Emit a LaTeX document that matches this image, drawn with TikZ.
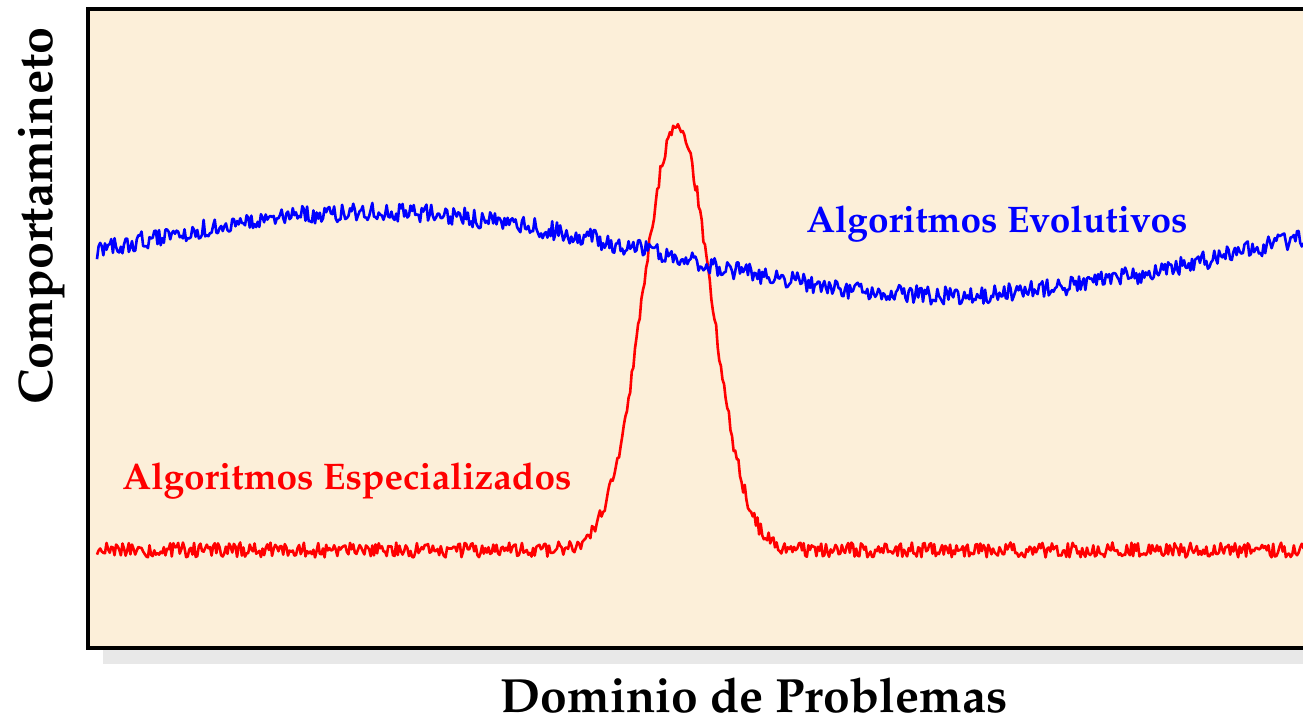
\documentclass[tikz,border=0pt]{standalone}
\usepackage[T1]{fontenc}
\renewcommand{\rmdefault}{ppl}
\definecolor{bgbeige}{RGB}{252,239,217}
\definecolor{shadowgray}{RGB}{232,232,232}
\begin{document}
\begin{tikzpicture}[x=1pt,y=-1pt,
  curve/.style={line width=2.6pt, line join=round},
  lbl/.style={font=\fontfamily{ppl}\bfseries\selectfont, anchor=base, inner sep=0pt}]
\useasboundingbox (0,0) rectangle (1303,719);
\begin{scope}
\clip (0,0) rectangle (1303,719);
\fill[shadowgray] (103,650) rectangle (1320,664);
\draw[line width=3.5pt, fill=bgbeige] (88,9) rectangle (1320,648);
\pgfmathsetseed{4242}
\draw[curve, red] plot[domain=97:1305, samples=760]
  (\x, {550 - 425*exp(-min(((\x-677)/34)^2/2, 9)) + 7.5*rand});
\draw[curve, blue] plot[domain=97:1305, samples=760]
  (\x, {253.5 - 41.5*cos(0.313*(\x-372)) + 9.5*rand});
\end{scope}
\node[lbl, text=blue, font=\fontfamily{ppl}\bfseries\fontsize{37}{40}\selectfont] (evo) at (997,233) {Algoritmos Evolutivos};
\node[lbl, text=red, font=\fontfamily{ppl}\bfseries\fontsize{37}{40}\selectfont] (esp) at (347,489) {Algoritmos Especializados};
\node[lbl, font=\fontfamily{ppl}\bfseries\fontsize{48}{52}\selectfont] (xlab) at (754,712) {Dominio de Problemas};
\node[lbl, rotate=90, font=\fontfamily{ppl}\bfseries\fontsize{48.5}{52}\selectfont] (ylab) at (52,216) {Comportamineto};
\end{tikzpicture}
\end{document}
